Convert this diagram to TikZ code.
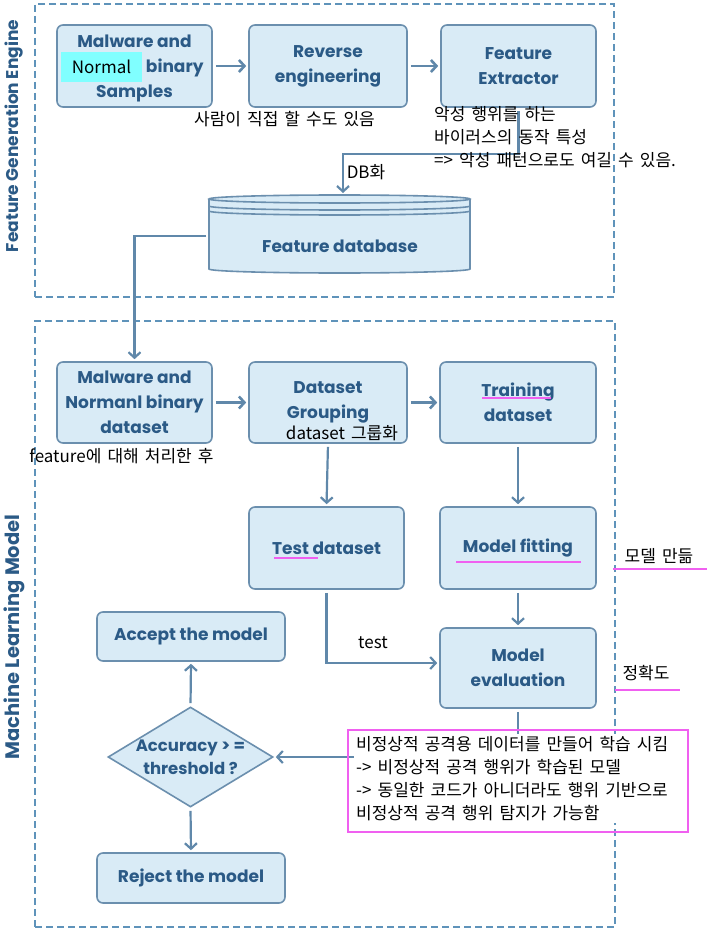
\documentclass[tikz,border=0pt]{standalone}
\usepackage{fontspec}
\setmainfont{Poppins}
\newfontfamily\boxfont{Poppins}
\newfontfamily\kr{Noto Sans CJK KR}[WordSpace=1.6]
\usetikzlibrary{arrows.meta,shapes.geometric}
\definecolor{boxfill}{HTML}{D9EBF6}
\definecolor{boxdraw}{HTML}{6B8FAE}
\definecolor{boxtext}{HTML}{2B5A86}
\definecolor{linecol}{HTML}{6088AA}
\definecolor{dashcol}{HTML}{5F93BA}
\definecolor{magentac}{HTML}{F060F0}
\definecolor{cyanhl}{HTML}{80FFFF}
\tikzset{
  proc/.style={rectangle, rounded corners=6pt, draw=boxdraw, line width=1.6pt, fill=boxfill,
    text=boxtext, font=\boxfont\bfseries\fontsize{17}{25}\selectfont, align=center, inner sep=0pt},
  conn/.style={draw=linecol, line width=2.6pt, -{Straight Barb[length=5.5pt,width=12pt]},
    shorten >=2pt, shorten <=3pt},
  note/.style={font=\kr\fontsize{17}{23}\selectfont, text=black, inner sep=0pt},
  frame/.style={draw=dashcol, line width=2.2pt, dash pattern=on 7pt off 4pt},
  hl/.style={draw=magentac, line width=2.4pt},
  sidetitle/.style={font=\boxfont\bfseries, text=boxtext, rotate=90}
}
\begin{document}
\begin{tikzpicture}[x=1pt,y=-1pt]
\useasboundingbox[fill=white] (0,0) rectangle (724,936);

% frames
\node[frame, minimum width=579pt, minimum height=293pt, inner sep=0pt] (fge) at (324.5,150.5) {};
\node[frame, minimum width=580pt, minimum height=606pt, inner sep=0pt] (mlm) at (325,624) {};
\node[sidetitle, font=\boxfont\bfseries\fontsize{17}{17}\selectfont] (t1) at (14,136) {Feature Generation Engine};
\node[sidetitle, font=\boxfont\bfseries\fontsize{19.5}{19.5}\selectfont] (t2) at (14,637) {Machine Learning Model};

% top row
\node[proc, minimum width=155pt, minimum height=82pt] (s1) at (134.5,66) {Malware and\\\phantom{Normanl} binary\\\raisebox{0pt}[\height][0pt]{Samples}};
\node[proc, minimum width=158pt, minimum height=82pt] (s2) at (328,66) {Reverse\\engineering};
\node[proc, minimum width=155pt, minimum height=82pt] (s3) at (518.5,66) {Feature\\Extractor};
\node[fill=cyanhl, minimum width=81pt, minimum height=30pt, inner sep=0pt,
      font=\kr\fontsize{17}{17}\selectfont, text=black] (nm) at (101.5,67) {Normal};

\draw[conn] (s1.east) -- (s2.west);
\draw[conn] (s2.east) -- (s3.west);

% database cylinder
\path[fill=boxfill] (209,199) -- (209,269) arc[start angle=180,end angle=360,x radius=130.5pt,y radius=4pt] -- (470,199) -- cycle;
\draw[boxdraw, line width=1.6pt] (209,199) -- (209,269) arc[start angle=180,end angle=360,x radius=130.5pt,y radius=4pt] -- (470,199);
\draw[boxdraw, line width=1.6pt, fill=boxfill] (339.5,199) ellipse [x radius=130.5pt, y radius=4pt];
\draw[boxdraw, line width=1.6pt] (209,206) arc[start angle=180,end angle=360,x radius=130.5pt,y radius=4pt];
\draw[boxdraw, line width=1.6pt] (209,211) arc[start angle=180,end angle=360,x radius=130.5pt,y radius=4pt];
\node[text=boxtext, font=\boxfont\bfseries\fontsize{17}{17}\selectfont] (db) at (340,246) {Feature database};
\coordinate (dbtop) at (343,195);
\coordinate (dbleft) at (209,236);

\draw[conn, line width=2.2pt] (s3.south) -- (518.5,154) -| (dbtop);

% notes top
\node[note] (n1) at (284.5,119) {사람이 직접 할 수도 있음};
\node[note, anchor=west, align=left] (n2) at (434,137) {악성 행위를 하는\\바이러스의 동작 특성\\=> 악성 패턴으로도 여길 수 있음.};
\node[note] (n3) at (366,172) {DB화};

% middle rows
\node[proc, minimum width=155pt, minimum height=81pt] (d1) at (134.5,402.5) {Malware and\\Normanl binary\\dataset};
\node[proc, minimum width=158pt, minimum height=81pt] (d2) at (328,402.5) {Dataset\\Grouping};
\node[proc, minimum width=156pt, minimum height=81pt] (d3) at (518,402.5) {Training\\dataset};
\node[proc, minimum width=155pt, minimum height=82pt] (ts) at (326.5,548) {Test dataset};
\node[proc, minimum width=156pt, minimum height=82pt] (mf) at (518,548) {Model fitting};
\node[proc, minimum width=156pt, minimum height=80pt] (ev) at (518,668) {Model\\evaluation};
\node[proc, minimum width=188pt, minimum height=49pt] (acc) at (191,636.5) {Accept the model};
\node[proc, minimum width=188pt, minimum height=50pt] (rej) at (191,878) {Reject the model};
\node[diamond, draw=boxdraw, line width=1.6pt, fill=boxfill, minimum width=165pt, minimum height=100pt, inner sep=0pt] (dia) at (190.5,757) {};
\node[text=boxtext, font=\boxfont\bfseries\fontsize{16.5}{23}\selectfont, align=center] (diat) at (190.5,757) {Accuracy > =\\threshold ?};

\draw[conn, line width=2.2pt] (dbleft) -| (d1.north);
\draw[conn] (d1.east) -- (d2.west);
\draw[conn] (d2.east) -- (d3.west);
\draw[conn, line width=2.2pt] (d2.south) -- (ts.north);
\draw[conn, line width=2.2pt] (d3.south) -- (mf.north);
\draw[conn, line width=2.2pt] (mf.south) -- (ev.north);
\draw[conn, line width=2.2pt] (ts.south) |- ([yshift=5pt]ev.west);
\draw[conn, line width=2.2pt] (ev.south) |- (dia.east);
\draw[conn, line width=2.2pt] (dia.north) -- (acc.south);
\draw[conn, line width=2.2pt] (dia.south) -- (rej.north);

% magenta underlines
\draw[hl] (482,398) -- (551,398);
\draw[hl] (456,562) -- (581,562);
\draw[hl] (274,558) -- (318,558);
\draw[hl] (613,569) -- (707,569);
\draw[hl] (615,690) -- (680,690);

% notes middle
\node[note] (n4) at (121.5,456) {feature에 대해 처리한 후};
\node[note] (n5) at (342,433) {dataset 그룹화};
\node[note] (n6) at (373,643) {test};
\node[note] (n7) at (659,556) {모델 만듦};
\node[note] (n8) at (646,673) {정확도};

\node[draw=magentac, line width=2pt, minimum width=340pt, minimum height=102pt, inner sep=0pt] (mbox) at (518,781) {};
\node[note, anchor=north west, align=left, fill=white, inner sep=2pt] (mt) at (354,734)
  {비정상적 공격용 데이터를 만들어 학습 시킴\\-> 비정상적 공격 행위가 학습된 모델\\-> 동일한 코드가 아니더라도 행위 기반으로\\비정상적 공격 행위 탐지가 가능함};
\end{tikzpicture}
\end{document}
